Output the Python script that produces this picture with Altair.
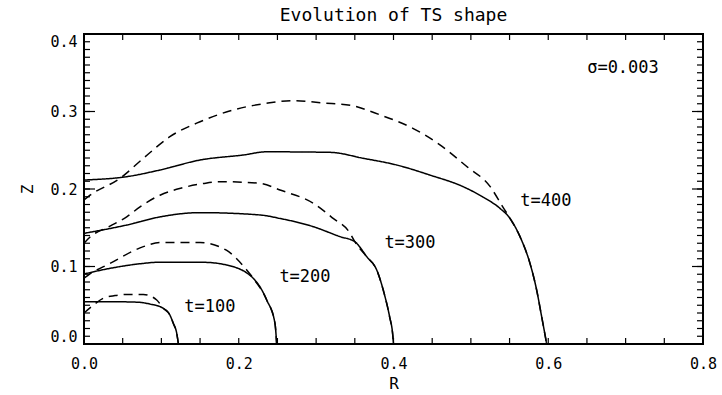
import altair as alt
import pandas as pd

# Plot area size in pixels
W, H = 619, 310
FONT = "DejaVu Sans Mono"

# Shape profiles Z(R) at four times: solid = computed front, dashed = reference front
r100 = [0.0, 0.03, 0.068, 0.085, 0.1025, 0.111, 0.1154, 0.1198, 0.122]
z100 = [0.0546, 0.0546, 0.054, 0.0516, 0.046, 0.0374, 0.0267, 0.014, 0.0]
r100_dash_head = [0.0, 0.012, 0.025, 0.04, 0.055, 0.0767, 0.094]
z100_dash_head = [0.040, 0.050, 0.059, 0.0625, 0.064, 0.064, 0.0568]
merge100 = 4

r200 = [0.0, 0.0336, 0.0767, 0.094, 0.154, 0.184, 0.2188, 0.2361, 0.2468, 0.249]
z200 = [0.0903, 0.0976, 0.104, 0.1054, 0.1054, 0.102, 0.0847, 0.0568, 0.0267, 0.0]
r200_dash_head = [0.0, 0.0056, 0.0336, 0.0767, 0.098, 0.15, 0.184, 0.2103]
z200_dash_head = [0.085, 0.089, 0.104, 0.1256, 0.131, 0.131, 0.121, 0.0955]
merge200 = 6

r300 = [0.0, 0.0552, 0.0982, 0.15, 0.2275, 0.2533, 0.2963, 0.3309, 0.350,
        0.3654, 0.3783, 0.388, 0.395, 0.399, 0.4]
z300 = [0.1428, 0.1535, 0.164, 0.1695, 0.1665, 0.162, 0.1514, 0.1385, 0.132,
        0.1127, 0.0955, 0.065, 0.035, 0.012, 0.0]
r300_dash_head = [0.0, 0.0078, 0.0336, 0.0552, 0.0724, 0.0982, 0.125, 0.154,
                  0.176, 0.2275, 0.2533, 0.2963, 0.322, 0.3438]
z300_dash_head = [0.130, 0.138, 0.152, 0.164, 0.177, 0.192, 0.201, 0.207,
                  0.2095, 0.2073, 0.1987, 0.1815, 0.162, 0.143]
merge300 = 8

r400 = [0.0, 0.0552, 0.0982, 0.15, 0.2059, 0.236, 0.318, 0.361, 0.404, 0.447,
        0.490, 0.515, 0.5376, 0.5506, 0.5635, 0.5764, 0.585, 0.5915, 0.598]
z400 = [0.2116, 0.2159, 0.2245, 0.2374, 0.2439, 0.248, 0.2473, 0.2396, 0.231,
        0.218, 0.203, 0.19, 0.175, 0.162, 0.1385, 0.104, 0.0697, 0.0352, 0.0]
r400_dash_head = [0.0, 0.0078, 0.0465, 0.0767, 0.111, 0.150, 0.193, 0.236,
                  0.2705, 0.309, 0.344, 0.383, 0.4256, 0.460, 0.4947, 0.525, 0.540]
z400_dash_head = [0.186, 0.192, 0.2138, 0.2396, 0.2675, 0.2868, 0.302, 0.3106,
                  0.314, 0.311, 0.308, 0.2955, 0.278, 0.257, 0.229, 0.203, 0.179]
merge400 = 13

# Curve labels and their anchor points (data coordinates)
label_text = ["t=100", "t=200", "t=300", "t=400", "\u03c3=0.003"]
label_r = [0.1628, 0.2856, 0.4213, 0.597, 0.6966]
label_z = [0.048, 0.0865, 0.1297, 0.1845, 0.356]

# Axis ticks
x_label_values = [0.0, 0.2, 0.4, 0.6, 0.8]
y_label_values = [0.0, 0.1, 0.2, 0.3, 0.4]
x_tick_values = [0.0, 0.05, 0.1, 0.15, 0.2, 0.25, 0.3, 0.35, 0.4,
                 0.45, 0.5, 0.55, 0.6, 0.65, 0.7, 0.75, 0.8]
y_minor_values = [round(0.01 * k, 2) for k in range(41)]

rows = []


def add_curve(name, style, rs, zs):
    for k, (r, z) in enumerate(zip(rs, zs)):
        rows.append({"curve": name, "style": style, "R": r, "Z": z, "k": k})


curves = [
    ("100", r100, z100, r100_dash_head, z100_dash_head, merge100),
    ("200", r200, z200, r200_dash_head, z200_dash_head, merge200),
    ("300", r300, z300, r300_dash_head, z300_dash_head, merge300),
    ("400", r400, z400, r400_dash_head, z400_dash_head, merge400),
]
for t, rs, zs, rdh, zdh, m in curves:
    add_curve("solid" + t, "solid", rs, zs)
    # the dashed front runs onto the solid one past the merge point
    add_curve("dashed" + t, "dashed", rdh + rs[m:], zdh + zs[m:])

lines_df = pd.DataFrame(rows)
labels_df = pd.DataFrame({"text": label_text, "R": label_r, "Z": label_z})

xscale = alt.Scale(domain=[0, 0.8], nice=False, zero=False)
yscale = alt.Scale(domain=[0, 0.4], nice=False, zero=False)

axis_style = dict(labelFont=FONT, labelFontSize=15, labelColor="black",
                  titleFont=FONT, titleFontSize=16, titleFontWeight="normal",
                  titleColor="black", ticks=False, domain=False, grid=False,
                  format=".1f")
x_axis = alt.Axis(values=x_label_values, labelPadding=12, titlePadding=4,
                  labelFlush=False, **axis_style)
y_axis = alt.Axis(values=y_label_values, labelPadding=7, labelFlush=True,
                  titlePadding=14, **axis_style)

lines = alt.Chart(lines_df).mark_line(
    color="black", strokeWidth=1.5, interpolate="monotone"
).encode(
    x=alt.X("R:Q", scale=xscale, title="R", axis=x_axis),
    y=alt.Y("Z:Q", scale=yscale, title="Z", axis=y_axis),
    detail="curve:N",
    order="k:Q",
    strokeDash=alt.StrokeDash("style:N", legend=None,
                              scale=alt.Scale(domain=["solid", "dashed"],
                                              range=[[1, 0], [9, 6]])),
)

texts = alt.Chart(labels_df).mark_text(font=FONT, fontSize=17, color="black").encode(
    x=alt.X("R:Q", scale=xscale, title="R", axis=x_axis),
    y=alt.Y("Z:Q", scale=yscale, title="Z", axis=y_axis),
    text="text:N",
)

xt = pd.DataFrame({"v": x_tick_values})
ymin = pd.DataFrame({"v": y_minor_values})
ymaj = pd.DataFrame({"v": y_label_values})


def xticks(y0, y1):
    return alt.Chart(xt).mark_rule(color="black", strokeWidth=1.2).encode(
        x=alt.X("v:Q", scale=xscale, title="R", axis=x_axis),
        y=alt.value(y0), y2=alt.value(y1))


def yticks(df, x0, x1):
    return alt.Chart(df).mark_rule(color="black", strokeWidth=1.2).encode(
        y=alt.Y("v:Q", scale=yscale, title="Z", axis=y_axis),
        x=alt.value(x0), x2=alt.value(x1))


chart = alt.layer(
    lines, texts,
    xticks(H, H - 6), xticks(0, 6),
    yticks(ymin, 0, 6), yticks(ymaj, 0, 11),
    yticks(ymin, W, W - 6), yticks(ymaj, W, W - 11),
).properties(
    width=W, height=H,
    background="white",
    autosize=alt.AutoSizeParams(type="none"),
    padding={"left": 84, "top": 34, "right": 19, "bottom": 51},
    title=alt.TitleParams("Evolution of TS shape", font=FONT, fontSize=18,
                          fontWeight="normal", color="black", offset=8),
).configure_view(stroke="black", strokeWidth=2)

chart.save("out.html", embed_options={"renderer": "svg", "actions": False})
